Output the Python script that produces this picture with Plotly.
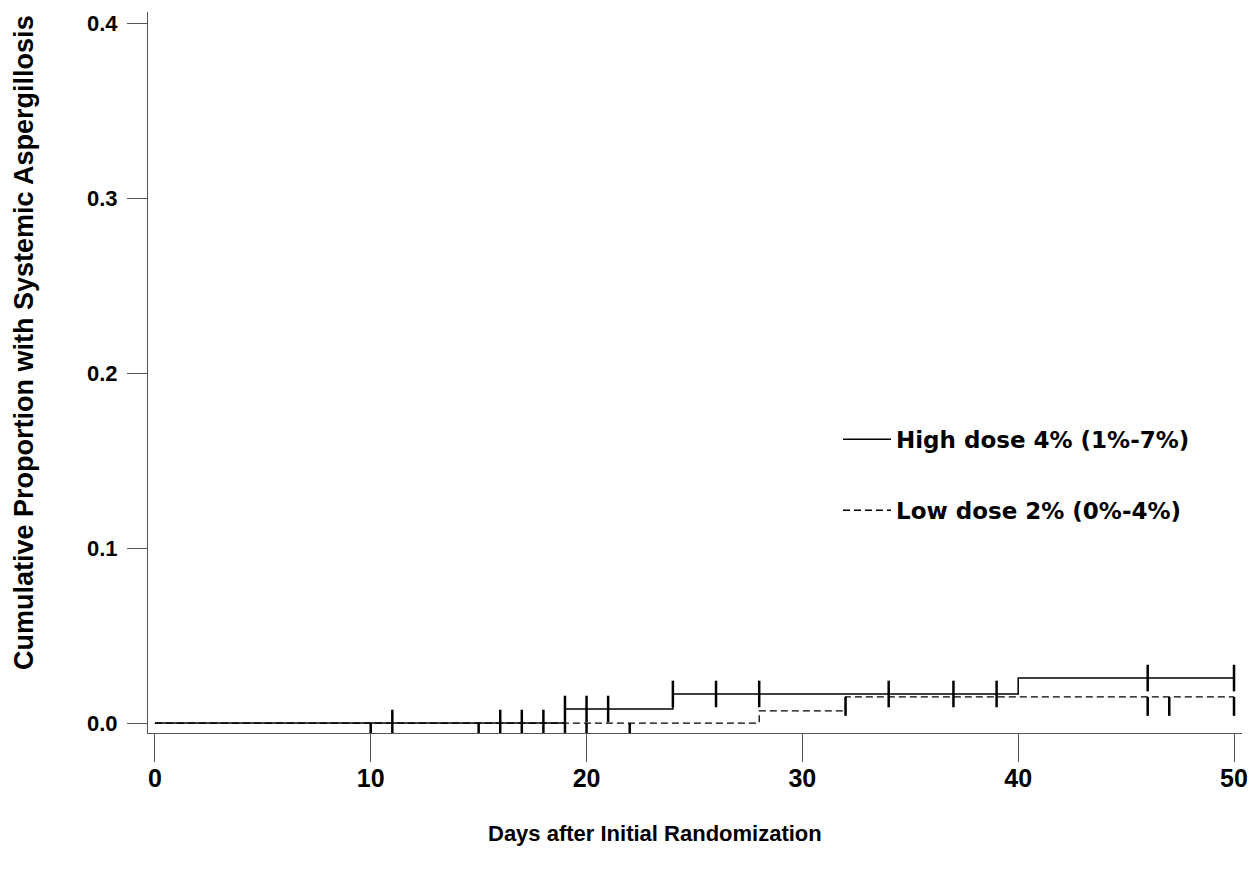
import plotly.graph_objects as go

# ---- data ----
high_days = [0, 19, 24, 40, 50]
high_cum = [0.0, 0.008, 0.0166, 0.0257, 0.0257]
low_days = [0, 28, 32, 50]
low_cum = [0.0, 0.0069, 0.0149, 0.0149]

high_censored_days = [11, 16, 17, 18, 19, 20, 21, 24, 26, 28, 34, 37, 39, 46, 50]
low_censored_days = [10, 15, 19, 20, 22, 32, 46, 47, 50]

high_label = "High dose 4% (1%-7%)"
low_label = "Low dose 2% (0%-4%)"

x_tick_vals = [0, 10, 20, 30, 40, 50]
x_tick_text = ["0", "10", "20", "30", "40", "50"]
y_tick_vals = [0.0, 0.1, 0.2, 0.3, 0.4]
y_tick_text = ["0.0", "0.1", "0.2", "0.3", "0.4"]

x_title = "Days after Initial Randomization"
y_title = "Cumulative Proportion with Systemic Aspergillosis"


def step_value(days, cum, t):
    v = cum[0]
    for d, c in zip(days, cum):
        if d <= t:
            v = c
    return v


high_cens_y = [step_value(high_days, high_cum, t) for t in high_censored_days]
low_cens_y = [step_value(low_days, low_cum, t) for t in low_censored_days]

FONT = "Liberation Sans, Arial, Helvetica, sans-serif"
WIDE = "DejaVu Sans, Liberation Sans, Arial, sans-serif"
LOW_TICK = 0.0108  # downward censor tick length in data units

fig = go.Figure()

fig.add_trace(go.Scatter(
    x=high_days, y=high_cum, mode="lines", line_shape="hv",
    line=dict(color="black", width=1.5), name=high_label,
    legendgroup="high", showlegend=True, hoverinfo="skip"))
fig.add_trace(go.Scatter(
    x=low_days, y=low_cum, mode="lines", line_shape="hv",
    line=dict(color="black", width=1.3, dash="7px,4px"), name=low_label,
    legendgroup="low", showlegend=True, hoverinfo="skip"))

fig.add_trace(go.Scatter(
    x=high_censored_days, y=high_cens_y, mode="markers",
    marker=dict(symbol="line-ns", size=19, line=dict(color="black", width=2.5)),
    legendgroup="high", showlegend=False, hoverinfo="skip"))

fig.add_trace(go.Scatter(
    x=low_censored_days, y=low_cens_y, mode="markers",
    marker=dict(size=1, color="rgba(0,0,0,0)"),
    error_y=dict(type="data", symmetric=False,
                 array=[0] * len(low_censored_days),
                 arrayminus=[LOW_TICK] * len(low_censored_days),
                 thickness=2.5, width=0, color="black"),
    legendgroup="low", showlegend=False, hoverinfo="skip"))

fig.update_layout(
    width=1251, height=874,
    margin=dict(l=148, r=9, t=12, b=141, autoexpand=False),
    paper_bgcolor="white", plot_bgcolor="white",
    font=dict(family=FONT, color="black"),
    showlegend=True,
    legend=dict(
        x=0.6307, y=0.437, xanchor="left", yanchor="top",
        font=dict(family=WIDE, size=23, color="black", weight="bold"),
        bgcolor="rgba(0,0,0,0)", borderwidth=0,
        tracegroupgap=38, traceorder="grouped", itemwidth=48),
    xaxis=dict(
        range=[-0.32, 50.37], showgrid=False, zeroline=False, automargin=False,
        showline=True, linecolor="#555", linewidth=1,
        ticks="outside", ticklen=28, tickwidth=1, tickcolor="#555",
        tickvals=x_tick_vals, ticktext=x_tick_text, ticklabelstandoff=-5,
        tickfont=dict(family=FONT, size=25, color="black", weight="bold")),
    yaxis=dict(
        range=[-0.0057, 0.4063], showgrid=False, zeroline=False, automargin=False,
        showline=True, linecolor="#555", linewidth=1,
        ticks="outside", ticklen=20, tickwidth=1, tickcolor="#555",
        tickvals=y_tick_vals, ticktext=y_tick_text, ticklabelstandoff=5,
        tickfont=dict(family=FONT, size=22, color="black", weight="bold")),
    annotations=[
        dict(text=x_title, xref="paper", yref="paper",
             x=0.4634, y=-0.140, xanchor="center", yanchor="middle",
             showarrow=False,
             font=dict(family=FONT, size=22, color="black", weight="bold")),
        dict(text=y_title, xref="paper", yref="paper",
             x=-0.1133, y=0.541, xanchor="center", yanchor="middle",
             textangle=-90, showarrow=False,
             font=dict(family=FONT, size=27, color="black", weight="bold")),
    ],
)

fig.write_html(
    "out.html",
    config={"displayModeBar": False},
    post_script="document.body.style.margin='0px';document.body.style.overflow='hidden';",
)
